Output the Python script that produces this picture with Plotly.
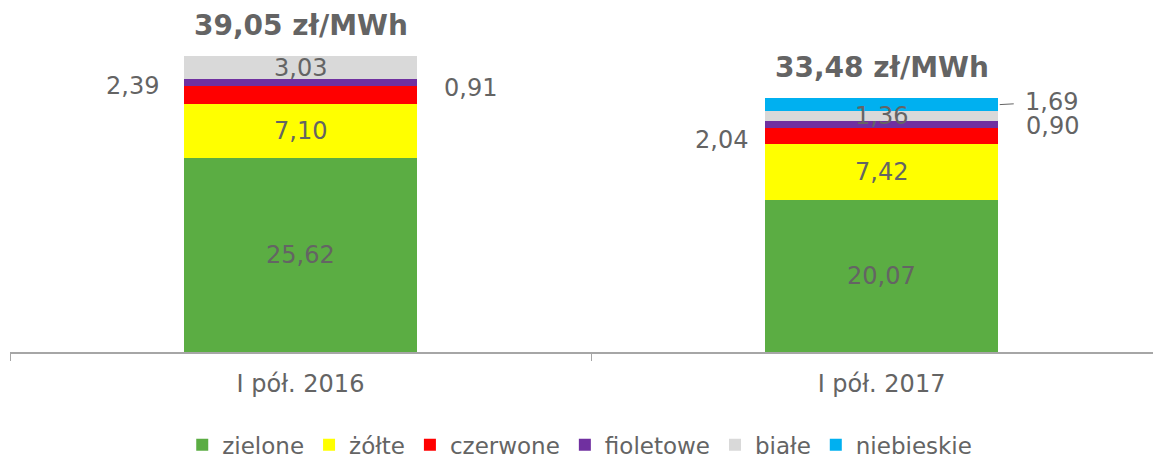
import plotly.graph_objects as go
import numpy as np

categories = ['I pół. 2016', 'I pół. 2017']
series = ['zielone', 'żółte', 'czerwone', 'fioletowe', 'białe', 'niebieskie']
zielone = [25.62, 20.07]
zolte = [7.10, 7.42]
czerwone = [2.39, 2.04]
fioletowe = [0.91, 0.90]
biale = [3.03, 1.36]
niebieskie = [0.0, 1.69]
totals = [39.05, 33.48]

values = [zielone, zolte, czerwone, fioletowe, biale, niebieskie]
colors = ['#5BAD43', '#FFFF00', '#FF0000', '#7030A0', '#D9D9D9', '#00B0F0']
txt = '#646464'
font = 'DejaVu Sans'

# where each value label goes: (mode, xshift px, yshift px)
label_pos = {
    ('zielone', 0): ('in', 0, 0), ('zielone', 1): ('in', 0, 0),
    ('żółte', 0): ('in', 0, 0), ('żółte', 1): ('in', 0, 0),
    ('czerwone', 0): ('side', -168, 9), ('czerwone', 1): ('side', -160, -4),
    ('fioletowe', 0): ('side', 170, -5), ('fioletowe', 1): ('side', 171, -1),
    ('białe', 0): ('in', 0, 0), ('białe', 1): ('in', 0, 0),
    ('niebieskie', 1): ('lead', 54, 1),
}

bar_w = 0.4
fig = go.Figure()
for name, vals, col in zip(series, values, colors):
    fig.add_trace(go.Bar(name=name, x=categories, y=vals, marker_color=col,
                         marker_line_width=0, width=bar_w, hoverinfo='skip'))

def fmt(v):
    return f'{v:.2f}'.replace('.', ',')

base = np.zeros(2)
anns = []
for name, vals in zip(series, values):
    for i, v in enumerate(vals):
        mid = base[i] + v / 2
        pos = label_pos.get((name, i))
        if pos is not None and v > 0:
            mode, dx, dy = pos
            f = dict(family=font, size=24, color=txt)
            if mode == 'lead':
                anns.append(dict(x=i + bar_w / 2, y=mid, xref='x', yref='y', text=fmt(v),
                                 showarrow=True, arrowhead=0, arrowwidth=1, arrowcolor=txt,
                                 ax=dx, ay=-dy - 2, standoff=2, startstandoff=10, font=f))
            else:
                anns.append(dict(x=i, y=mid, xref='x', yref='y', text=fmt(v), showarrow=False,
                                 xshift=dx, yshift=dy, font=f))
    base += np.array(vals)

for i, t in enumerate(totals):
    anns.append(dict(x=i, y=t, xref='x', yref='y', text=f'<b>{fmt(t)} zł/MWh</b>',
                     showarrow=False, yanchor='bottom', yshift=12,
                     font=dict(family=font, size=28, color=txt)))

# page body has an 8px margin, so the figure is 8px smaller than the window
fig.update_layout(
    barmode='stack',
    width=1153, height=450,
    margin=dict(l=2, r=0, t=0, b=106, autoexpand=False),
    plot_bgcolor='white', paper_bgcolor='white',
    font=dict(family=font, color=txt),
    annotations=anns,
    showlegend=True,
    legend=dict(orientation='h', x=0.495, xanchor='center', y=-0.27, yanchor='middle',
                font=dict(family=font, size=23, color=txt), traceorder='normal'),
)
fig.update_xaxes(type='category', range=[-0.5, 1.481],
                 tickson='boundaries', ticks='outside', ticklen=7, tickcolor='#A6A6A6',
                 showline=True, linecolor='#A6A6A6', linewidth=1.5, showgrid=False,
                 tickfont=dict(family=font, size=24, color=txt), ticklabelstandoff=9,
                 zeroline=False)
fig.update_yaxes(range=[0, 45.4], visible=False)

fig.write_html('out.html')
